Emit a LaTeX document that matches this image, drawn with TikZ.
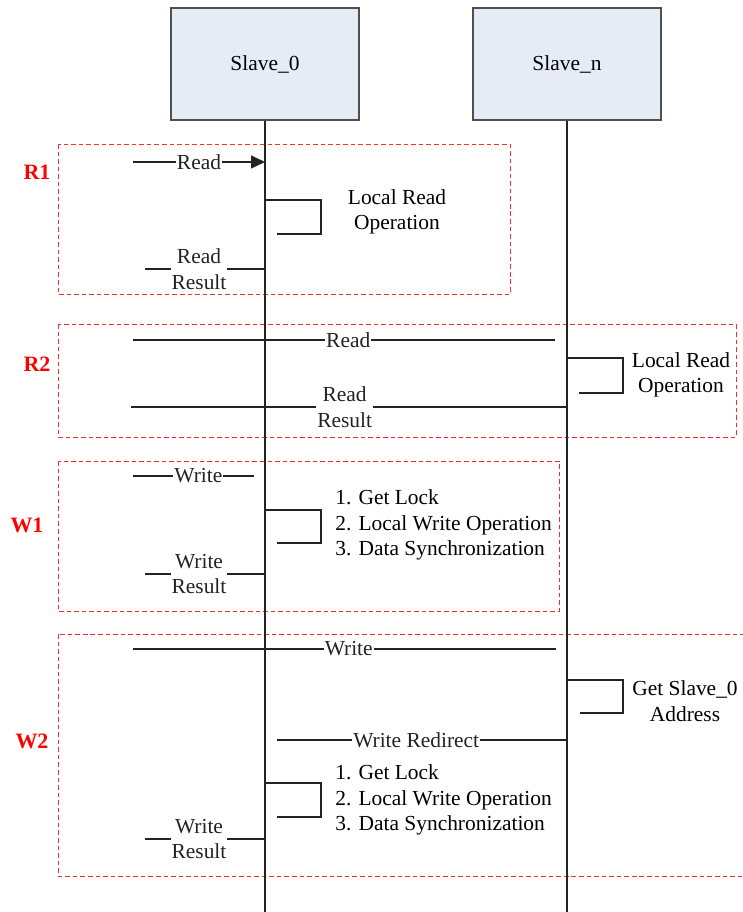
\documentclass[tikz,border=0pt]{standalone}
\usepackage{fontspec}
\setmainfont{Liberation Serif}
\usetikzlibrary{arrows.meta,positioning,calc}
\definecolor{boxblue}{RGB}{230,236,246}
\definecolor{linegrey}{RGB}{35,35,35}
\definecolor{phasered}{RGB}{250,45,45}

\begin{document}
\begin{tikzpicture}[x=0.02cm, y=-0.02cm,
    every node/.style={font=\fontsize{12.2}{14.5}\selectfont},
    slave/.style={rectangle, draw=linegrey!80, thick, fill=boxblue,
        minimum width=3.76cm, minimum height=2.24cm},
    life/.style={linegrey, line width=0.6pt},
    msg/.style={linegrey, line width=0.6pt},
    lbl/.style={fill=white, inner xsep=0.6pt, inner ysep=1pt, align=center},
    note/.style={align=center},
    steps/.style={align=left, anchor=west, inner sep=0pt},
    phase/.style={draw=phasered, line width=0.55pt, dash pattern=on 2.6pt off 1.7pt},
    tag/.style={text=red, font=\fontsize{12.5}{14}\selectfont\bfseries}
]
    \useasboundingbox (0,0) rectangle (743,912);

    % phases
    \draw[phase] (58,144) rectangle (510,294);
    \draw[phase] (58,324) rectangle (736,437);
    \draw[phase] (58,461) rectangle (559,611);
    \draw[phase] (58,634) rectangle (760,876);
    \node[tag] (r1tag) at (37,172) {R1};
    \node[tag] (r2tag) at (37,364) {R2};
    \node[tag] (w1tag) at (27,525) {W1};
    \node[tag] (w2tag) at (32,741) {W2};

    % slaves and lifelines
    \node[slave] (s0) at (265,64) {Slave\_0};
    \node[slave] (sn) at (567,64) {Slave\_n};
    \coordinate (e0) at (265,915);
    \coordinate (en) at (567,915);
    \draw[life] (s0) -- (e0);
    \draw[life] (sn) -- (en);

    % R1
    \coordinate (r1a) at (133,162);
    \draw[msg, -{Triangle[length=2.8mm,width=2.6mm]}] (r1a) -- node[lbl, pos=0.5] (r1read) {Read} (s0.south |- r1a);
    \coordinate (r1b) at (277,234);
    \draw[msg] (s0.south |- 0,200) -| (321,217) |- (r1b);
    \node[note] (r1op) at (397,212) {Local Read\\Operation};
    \coordinate (r1c) at (145,269);
    \draw[msg] (s0.south |- r1c) -- node[lbl, pos=0.55] (r1res) {Read\\Result} (r1c);

    % R2
    \coordinate (r2a) at (133,340);
    \coordinate (r2b) at (555,340);
    \draw[msg] (r2a) -- node[lbl, pos=0.51] (r2read) {Read} (r2b);
    \coordinate (r2c) at (579,393);
    \draw[msg] (sn.south |- 0,358) -| (623,375) |- (r2c);
    \node[note] (r2op) at (681,375) {Local Read\\Operation};
    \coordinate (r2d) at (131,407);
    \draw[msg] (sn.south |- r2d) -- node[lbl, pos=0.51] (r2res) {Read\\Result} (r2d);

    % W1
    \coordinate (w1a) at (133,476);
    \coordinate (w1b) at (254,476);
    \draw[msg] (w1a) -- node[lbl, pos=0.54] (w1write) {Write} (w1b);
    \coordinate (w1c) at (277,543);
    \draw[msg] (s0.south |- 0,510) -| (321,527) |- (w1c);
    \node[steps] (w1steps) at (335,525) {1. Get Lock\\2. Local Write Operation\\3. Data Synchronization};
    \coordinate (w1d) at (145,574);
    \draw[msg] (s0.south |- w1d) -- node[lbl, pos=0.55] (w1res) {Write\\Result} (w1d);

    % W2
    \coordinate (w2a) at (133,649);
    \coordinate (w2b) at (556,649);
    \draw[msg] (w2a) -- node[lbl, pos=0.51] (w2write) {Write} (w2b);
    \coordinate (w2c) at (580,713);
    \draw[msg] (sn.south |- 0,680) -| (623,696) |- (w2c);
    \node[note] (w2addr) at (685,701) {Get Slave\_0\\Address};
    \coordinate (w2d) at (277,740);
    \draw[msg] (sn.south |- w2d) -- node[lbl, pos=0.52] (w2redir) {Write Redirect} (w2d);
    \coordinate (w2e) at (277,817);
    \draw[msg] (s0.south |- 0,783) -| (321,800) |- (w2e);
    \node[steps] (w2steps) at (335,800) {1. Get Lock\\2. Local Write Operation\\3. Data Synchronization};
    \coordinate (w2f) at (145,839);
    \draw[msg] (s0.south |- w2f) -- node[lbl, pos=0.55] (w2res) {Write\\Result} (w2f);
\end{tikzpicture}
\end{document}
